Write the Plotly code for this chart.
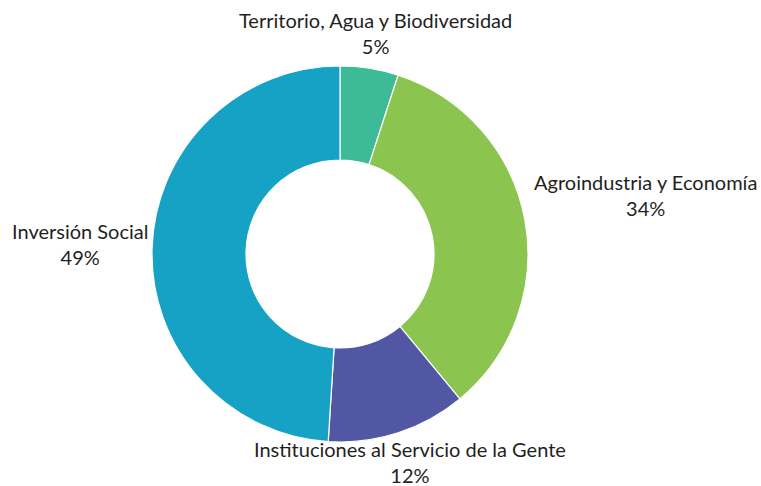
import plotly.graph_objects as go

labels = ["Territorio, Agua y Biodiversidad", "Agroindustria y Economía",
          "Instituciones al Servicio de la Gente", "Inversión Social"]
values = [5, 34, 12, 49]
colors = ["#3dbb96", "#8bc54f", "#5157a3", "#16a2c4"]

# label block centres in pixels (layout only)
label_px = [(375, 33), (645, 195), (410, 462), (80, 244)]

W, H = 761, 486
ML, MR, MT, MB = 0, 81, 66, 44

fig = go.Figure(go.Pie(
    labels=labels, values=values, hole=0.5, sort=False, direction="clockwise",
    rotation=0,
    marker=dict(colors=colors, line=dict(color="white", width=1.2)),
    textinfo="none", showlegend=False, hoverinfo="label+percent",
))

total = sum(values)
for lab, v, (px, py) in zip(labels, values, label_px):
    fig.add_annotation(
        x=(px - ML) / (W - ML - MR), y=(H - MB - py) / (H - MT - MB),
        xref="paper", yref="paper", xanchor="center", yanchor="middle",
        text=f"{lab}<br>{round(100 * v / total)}%", showarrow=False, align="center",
        font=dict(family="Lato", size=20, color="#1f1f1f"),
    )

fig.update_layout(
    width=W, height=H, paper_bgcolor="white", plot_bgcolor="white",
    margin=dict(l=ML, r=MR, t=MT, b=MB),
)
fig.write_html("out.html", config={"displayModeBar": False},
               post_script="document.body.style.margin='0';document.body.style.overflow='hidden';")
